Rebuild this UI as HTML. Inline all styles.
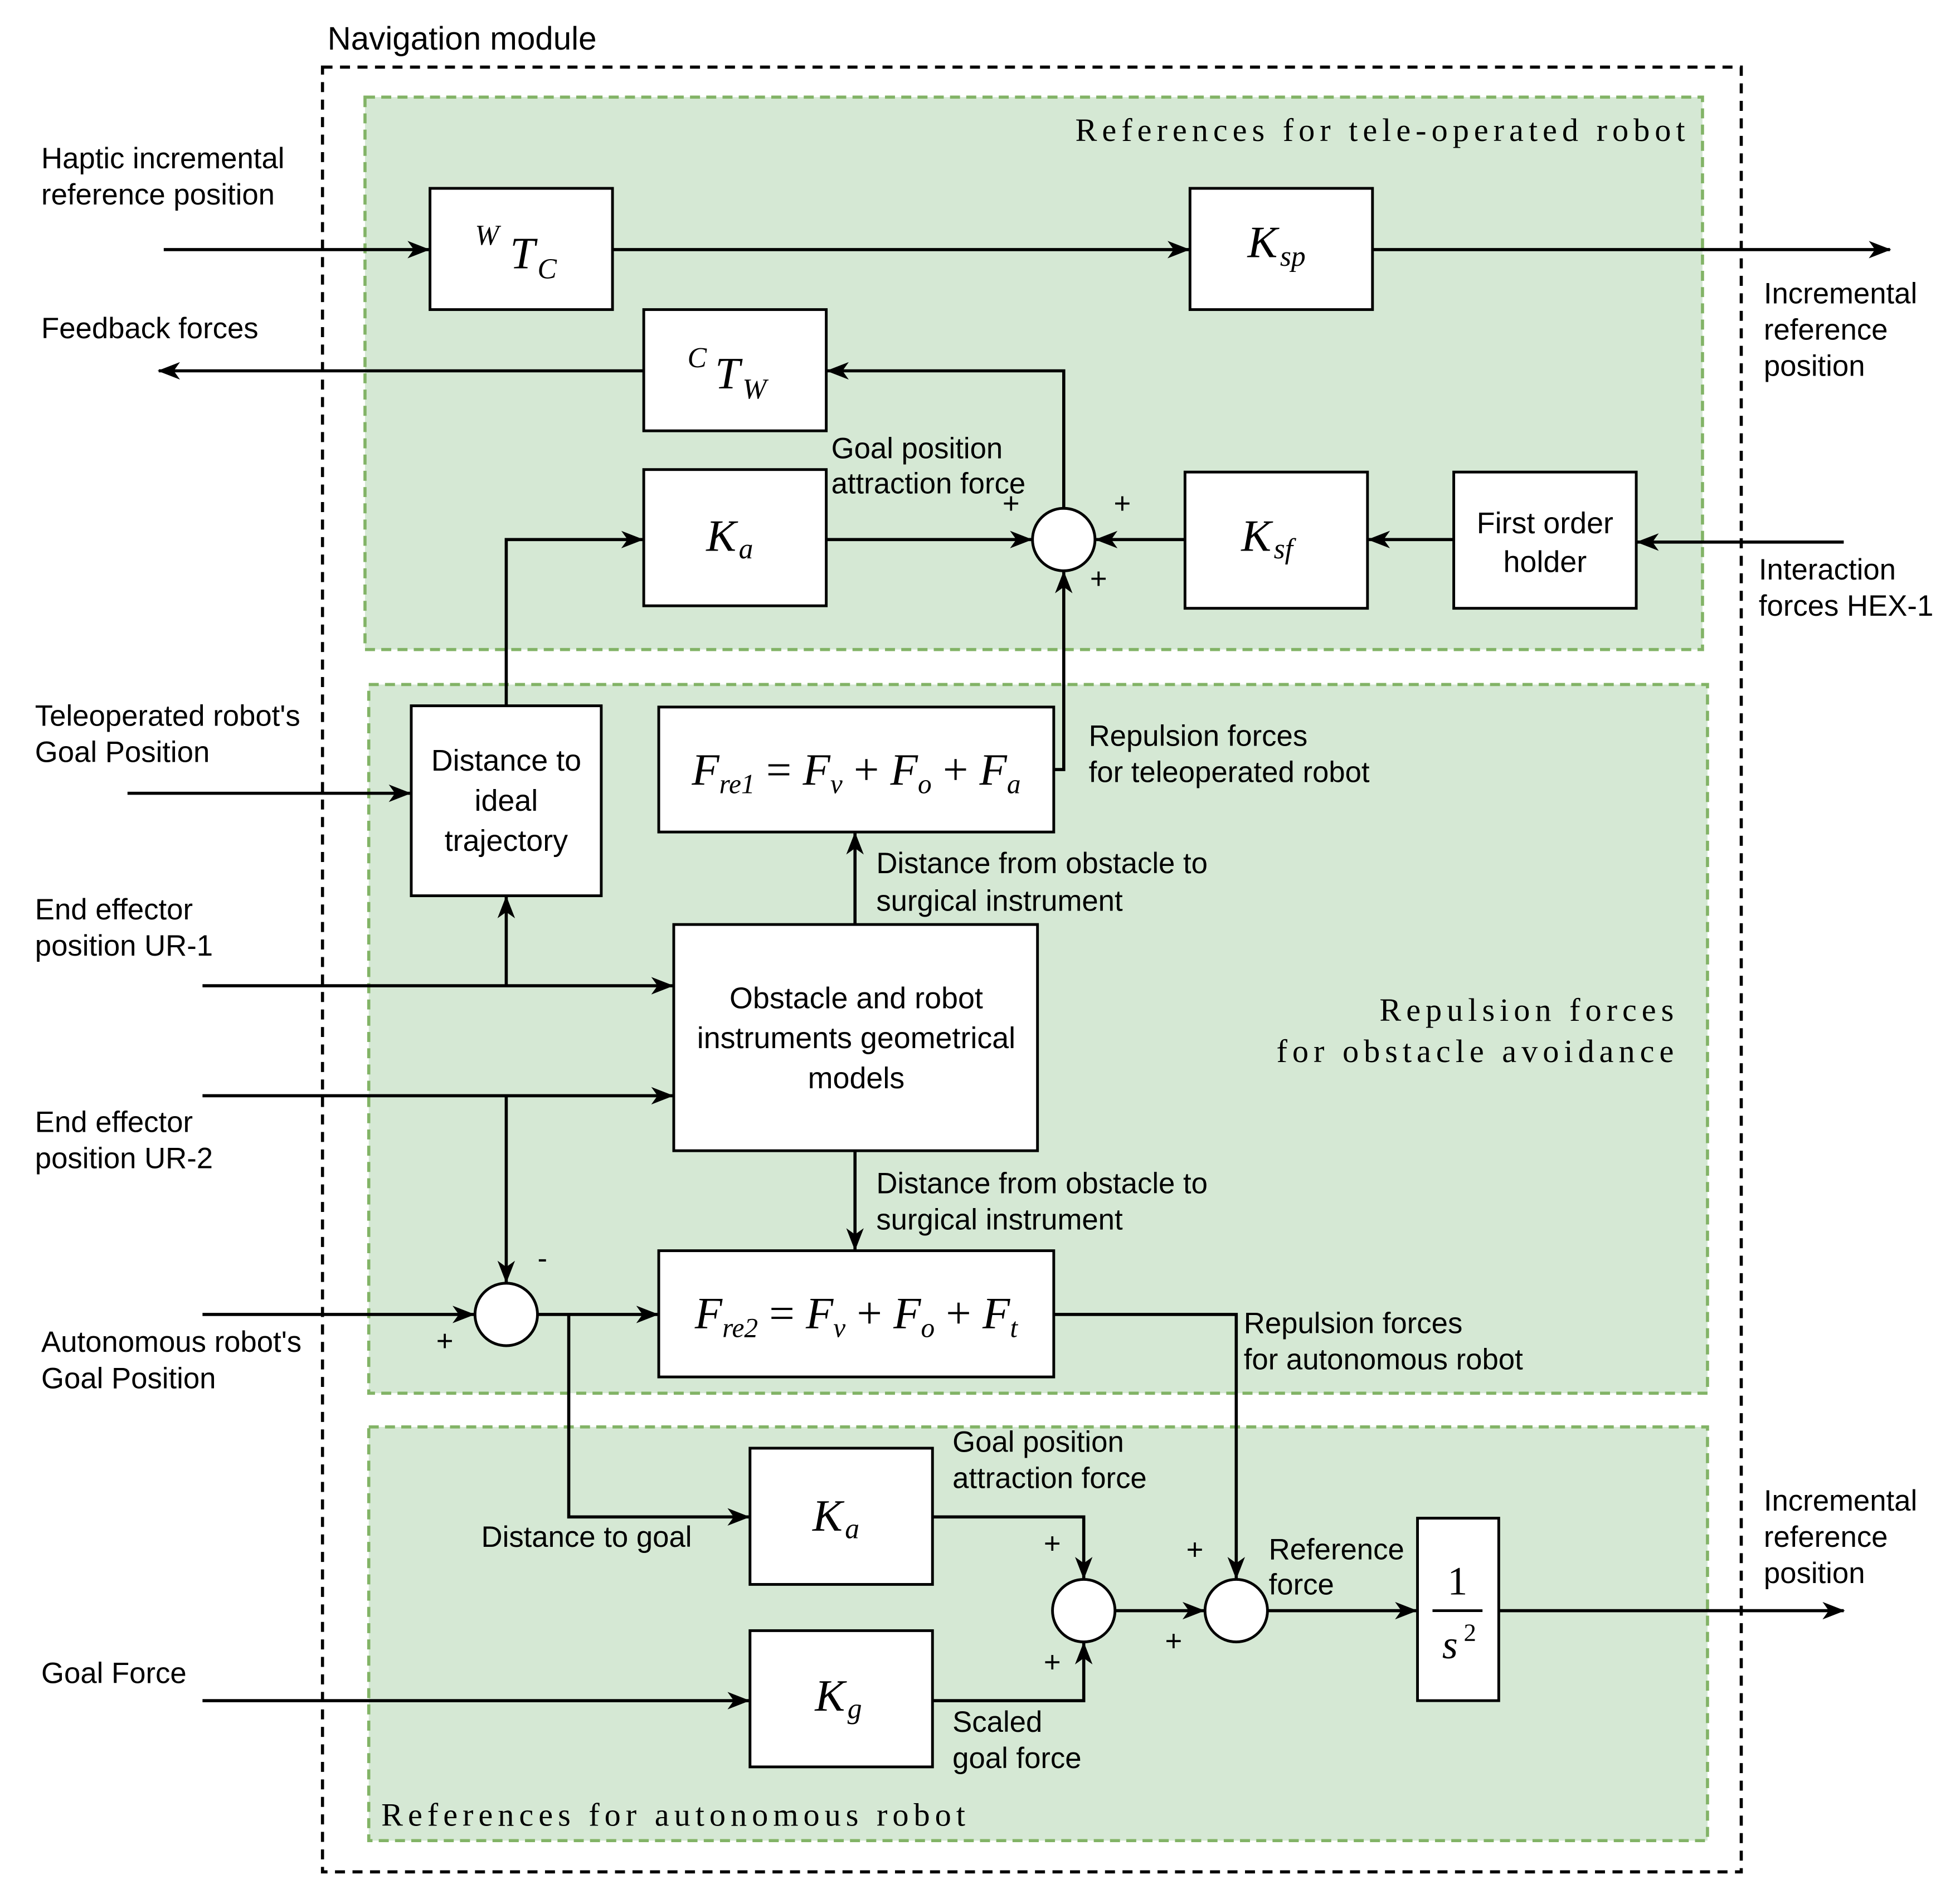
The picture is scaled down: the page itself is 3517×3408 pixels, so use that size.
<!DOCTYPE html>
<html><head><meta charset="utf-8"><style>
html,body{margin:0;padding:0;background:#fff}
svg{display:block}
text{font-family:"Liberation Sans",sans-serif;font-size:23.5px;fill:#000}
.m{font-family:"Liberation Serif",serif;font-style:italic;font-size:36px}
.s{font-family:"Liberation Serif",serif;font-style:italic;font-size:23px}
.t{font-family:"Liberation Serif",serif;font-size:26px;letter-spacing:4px}
</style></head><body>
<svg width="3517" height="3408" viewBox="0 0 1568 1518" xmlns="http://www.w3.org/2000/svg">
<defs><marker id="a" markerWidth="18" markerHeight="14" refX="17" refY="7" orient="auto" markerUnits="userSpaceOnUse"><path d="M0,0 L18,7 L0,14 L5,7 Z" fill="#000"/></marker></defs>
<rect width="1568" height="1518" fill="#fff"/>
<text x="262" y="39" style="font-size:26px">Navigation module</text>
<rect x="258" y="53" width="1135" height="1444" fill="none" stroke="#000" stroke-width="2.5" stroke-dasharray="8,6"/>
<g fill="#d5e8d4" stroke="#82b366" stroke-width="2.5" stroke-dasharray="8,5">
<rect x="292" y="77" width="1070" height="442"/>
<rect x="295" y="547" width="1071" height="567"/>
<rect x="295" y="1141" width="1071" height="331"/>
</g>
<text class="t" x="1352" y="112" text-anchor="end">References for tele-operated robot</text>
<text class="t" x="1343" y="816" text-anchor="end">Repulsion forces</text>
<text class="t" x="1343" y="849" text-anchor="end">for obstacle avoidance</text>
<text class="t" x="305" y="1460">References for autonomous robot</text>
<g fill="#fff" stroke="#000" stroke-width="2.2">
<rect x="344" y="150" width="146" height="97"/>
<rect x="952" y="150" width="146" height="97"/>
<rect x="515" y="247" width="146" height="97"/>
<rect x="515" y="375" width="146" height="109"/>
<rect x="948" y="377" width="146" height="109"/>
<rect x="1163" y="377" width="146" height="109"/>
<rect x="329" y="564" width="152" height="152"/>
<rect x="527" y="565" width="316" height="100"/>
<rect x="539" y="739" width="291" height="181"/>
<rect x="527" y="1000" width="316" height="101"/>
<rect x="600" y="1158" width="146" height="109"/>
<rect x="600" y="1304" width="146" height="109"/>
<rect x="1134" y="1214" width="65" height="146"/>
<circle cx="851" cy="431" r="25"/>
<circle cx="405" cy="1051" r="25"/>
<circle cx="867" cy="1288" r="25"/>
<circle cx="989" cy="1288" r="25"/>
</g>
<g fill="none" stroke="#000" stroke-width="2.5" marker-end="url(#a)">
<path d="M131,199 H343"/>
<path d="M490,199 H951"/>
<path d="M1098,199 H1512"/>
<path d="M515,296 H127"/>
<path d="M851,406 V296 H662"/>
<path d="M661,431 H825"/>
<path d="M948,431 H877"/>
<path d="M1163,431 H1095"/>
<path d="M1475,433 H1310"/>
<path d="M843,615 H851 V457"/>
<path d="M405,564 V431 H514"/>
<path d="M102,634 H328"/>
<path d="M162,788 H538"/>
<path d="M405,788 V717"/>
<path d="M162,876 H538"/>
<path d="M405,876 V1025"/>
<path d="M684,739 V666"/>
<path d="M684,920 V999"/>
<path d="M162,1051 H379"/>
<path d="M430,1051 H526"/>
<path d="M455,1051 V1213 H599"/>
<path d="M843,1051 H989 V1262"/>
<path d="M746,1213 H867 V1262"/>
<path d="M746,1360 H867 V1314"/>
<path d="M162,1360 H599"/>
<path d="M892,1288 H963"/>
<path d="M1014,1288 H1133"/>
<path d="M1199,1288 H1475"/>
</g>
<text class="s" x="380" y="195">W</text><text class="m" x="408" y="214">T</text><text class="s" x="430" y="222">C</text>
<text class="m" x="998" y="205">K</text><text class="s" x="1024" y="212">sp</text>
<text class="s" x="550" y="293">C</text><text class="m" x="572" y="310">T</text><text class="s" x="594" y="318">W</text>
<text class="m" x="565" y="440">K</text><text class="s" x="591" y="446">a</text>
<text class="m" x="993" y="440">K</text><text class="s" x="1019" y="446">sf</text>
<text class="m" x="650" y="1224">K</text><text class="s" x="676" y="1230">a</text>
<text class="m" x="652" y="1368">K</text><text class="s" x="678" y="1374">g</text>
<text class="m" x="685" y="627" text-anchor="middle" style="font-size:36px">F<tspan style="font-size:22px" dy="7">re1</tspan><tspan dy="-7" style="font-style:normal"> = </tspan>F<tspan style="font-size:22px" dy="7">v</tspan><tspan dy="-7" style="font-style:normal"> + </tspan>F<tspan style="font-size:22px" dy="7">o</tspan><tspan dy="-7" style="font-style:normal"> + </tspan>F<tspan style="font-size:22px" dy="7">a</tspan></text>
<text class="m" x="685" y="1062" text-anchor="middle" style="font-size:36px">F<tspan style="font-size:22px" dy="7">re2</tspan><tspan dy="-7" style="font-style:normal"> = </tspan>F<tspan style="font-size:22px" dy="7">v</tspan><tspan dy="-7" style="font-style:normal"> + </tspan>F<tspan style="font-size:22px" dy="7">o</tspan><tspan dy="-7" style="font-style:normal"> + </tspan>F<tspan style="font-size:22px" dy="7">t</tspan></text>
<text x="1166" y="1275" text-anchor="middle" style="font-family:'Liberation Serif',serif;font-size:32px">1</text>
<line x1="1146" y1="1288" x2="1186" y2="1288" stroke="#000" stroke-width="2.2"/>
<text x="1160" y="1326" text-anchor="middle" style="font-family:'Liberation Serif',serif;font-style:italic;font-size:32px">s</text><text x="1171" y="1312" style="font-family:'Liberation Serif',serif;font-size:20px">2</text>
<g text-anchor="middle">
<text x="1236" y="426" style="font-size:24px">First order</text><text x="1236" y="457" style="font-size:24px">holder</text>
<text x="405" y="616" style="font-size:24px">Distance to</text><text x="405" y="648" style="font-size:24px">ideal</text><text x="405" y="680" style="font-size:24px">trajectory</text>
<text x="685" y="806" style="font-size:24px">Obstacle and robot</text><text x="685" y="838" style="font-size:24px">instruments geometrical</text><text x="685" y="870" style="font-size:24px">models</text>
</g>
<text x="33" y="134">Haptic incremental</text><text x="33" y="163">reference position</text>
<text x="33" y="270">Feedback forces</text>
<text x="1411" y="242">Incremental</text><text x="1411" y="271">reference</text><text x="1411" y="300">position</text>
<text x="665" y="366">Goal position</text><text x="665" y="394">attraction force</text>
<text x="1407" y="463">Interaction</text><text x="1407" y="492">forces HEX-1</text>
<text x="28" y="580">Teleoperated robot's</text><text x="28" y="609">Goal Position</text>
<text x="871" y="596">Repulsion forces</text><text x="871" y="625">for teleoperated robot</text>
<text x="701" y="698">Distance from obstacle to</text><text x="701" y="728">surgical instrument</text>
<text x="28" y="735">End effector</text><text x="28" y="764">position UR-1</text>
<text x="28" y="905">End effector</text><text x="28" y="934">position UR-2</text>
<text x="701" y="954">Distance from obstacle to</text><text x="701" y="983">surgical instrument</text>
<text x="33" y="1081">Autonomous robot's</text><text x="33" y="1110">Goal Position</text>
<text x="995" y="1066">Repulsion forces</text><text x="995" y="1095">for autonomous robot</text>
<text x="762" y="1161">Goal position</text><text x="762" y="1190">attraction force</text>
<text x="385" y="1237">Distance to goal</text>
<text x="1015" y="1247">Reference</text><text x="1015" y="1275">force</text>
<text x="1411" y="1208">Incremental</text><text x="1411" y="1237">reference</text><text x="1411" y="1266">position</text>
<text x="33" y="1346">Goal Force</text>
<text x="762" y="1385">Scaled</text><text x="762" y="1414">goal force</text>
<text x="802" y="410">+</text><text x="891" y="410">+</text><text x="872" y="470">+</text>
<text x="430" y="1014">-</text><text x="349" y="1080">+</text>
<text x="835" y="1242">+</text><text x="835" y="1337">+</text>
<text x="949" y="1247">+</text><text x="932" y="1320">+</text>
</svg>
</body></html>
